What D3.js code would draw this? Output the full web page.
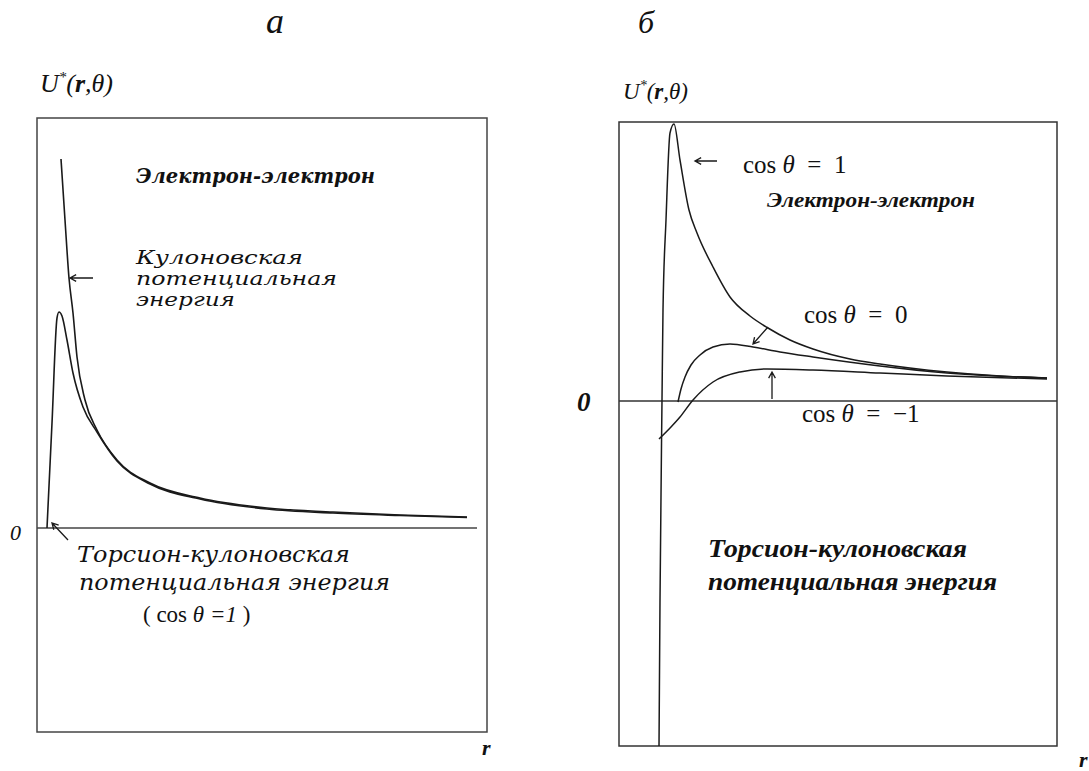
<!DOCTYPE html>
<html>
<head>
<meta charset="utf-8">
<script src="https://cdn.jsdelivr.net/npm/d3@7"></script>
<style>
  body { margin: 0; background: #fff; }
  svg { display: block; }
  text { white-space: pre; fill: #111; }
</style>
</head>
<body>
<svg id="chart" width="1089" height="771"></svg>
<script>
// panel a: r and U values (arbitrary units)
const coulombR = [0.24, 0.28, 0.32, 0.36, 0.40, 0.48, 0.60, 0.80, 1.13, 1.63, 2.30, 2.96, 3.63, 4.30]
const coulombU = [3.69, 3.08, 2.50, 2.15, 1.71, 1.28, 0.98, 0.68, 0.45, 0.30, 0.20, 0.16, 0.13, 0.11]
const torsionR = [0.10, 0.15, 0.20, 0.22, 0.25, 0.30, 0.36, 0.46, 0.60, 0.80, 1.13, 1.63, 2.30, 2.96, 3.63, 4.30]
const torsionU = [0.00, 1.05, 2.10, 2.16, 2.12, 1.88, 1.55, 1.21, 0.96, 0.67, 0.44, 0.29, 0.19, 0.15, 0.125, 0.105]

// panel б: three curves for cos θ = 1, 0, -1
const cos1R = [0.40, 0.41, 0.43, 0.44, 0.47, 0.51, 0.55, 0.61, 0.70, 0.78, 0.94, 1.11, 1.31, 1.49, 1.71, 1.94, 2.31, 2.61, 3.28, 3.81, 4.28]
const cos1U = [-3.45, -1.99, 0.01, 0.91, 1.81, 2.68, 2.77, 2.41, 1.91, 1.68, 1.34, 1.04, 0.85, 0.73, 0.61, 0.52, 0.42, 0.37, 0.29, 0.25, 0.23]
const cos0R = [0.59, 0.62, 0.66, 0.72, 0.81, 0.94, 1.11, 1.34, 1.61, 1.94, 2.61, 3.28, 4.28]
const cos0U = [-0.01, 0.12, 0.24, 0.36, 0.46, 0.54, 0.57, 0.54, 0.49, 0.44, 0.35, 0.28, 0.23]
const cosM1R = [0.40, 0.52, 0.61, 0.74, 0.94, 1.21, 1.48, 1.94, 2.61, 3.28, 4.28]
const cosM1U = [-0.38, -0.26, -0.16, 0.01, 0.19, 0.29, 0.32, 0.31, 0.28, 0.25, 0.22]

// axis extents of each panel
const domainA = { r: [0, 4.5], u: [-2.04, 4.1] }
const domainB = { r: [0, 4.38], u: [-3.45, 2.79] }

function makeChart() {
  const svg = d3.select('#chart')
  const ink = '#1a1a1a'
  const times = '"Liberation Serif", serif'
  const century = '"DejaVu Serif", serif'

  const zip = (xs, ys) => xs.map((r, i) => ({ r, u: ys[i] }))

  // small helper for a text label
  function label(x, y, size, t, opts = {}) {
    const el = svg.append('text').attr('x', x).attr('y', y)
      .attr('font-family', opts.family || times).attr('font-size', size)
    if (opts.italic) el.attr('font-style', 'italic')
    if (opts.bold) el.attr('font-weight', 'bold')
    if (opts.width) el.attr('textLength', opts.width).attr('lengthAdjust', 'spacingAndGlyphs')
    if (opts.html) el.html(t)
    else el.text(t)
    return el
  }

  // arrow with open head, from (r1,u1) to (r2,u2)
  function arrow(g, x, y, r1, u1, r2, u2) {
    const x1 = x(r1), y1 = y(u1), x2 = x(r2), y2 = y(u2)
    const a = Math.atan2(y2 - y1, x2 - x1)
    const h = 7
    g.append('path')
      .attr('d', `M${x1},${y1}L${x2},${y2}` +
        `M${x2 - h * Math.cos(a - 0.5)},${y2 - h * Math.sin(a - 0.5)}L${x2},${y2}` +
        `L${x2 - h * Math.cos(a + 0.5)},${y2 - h * Math.sin(a + 0.5)}`)
      .attr('fill', 'none')
      .attr('stroke', ink)
      .attr('stroke-width', 1.3)
  }

  // ---------- panel a ----------
  const xa = d3.scaleLinear().domain(domainA.r).range([37, 487])
  const ya = d3.scaleLinear().domain(domainA.u).range([732, 118])
  const ga = svg.append('g')

  ga.append('rect')
    .attr('x', xa(domainA.r[0])).attr('y', ya(domainA.u[1]))
    .attr('width', xa(domainA.r[1]) - xa(domainA.r[0]))
    .attr('height', ya(domainA.u[0]) - ya(domainA.u[1]))
    .attr('fill', 'none').attr('stroke', '#444').attr('stroke-width', 1.5)
  ga.append('line')
    .attr('x1', xa(0)).attr('x2', xa(4.4))
    .attr('y1', ya(0)).attr('y2', ya(0))
    .attr('stroke', '#444').attr('stroke-width', 1.5)

  const lineA = d3.line().x(d => xa(d.r)).y(d => ya(d.u)).curve(d3.curveMonotoneX)
  ga.selectAll('path.curve')
    .data([zip(coulombR, coulombU), zip(torsionR, torsionU)])
    .enter().append('path')
    .attr('class', 'curve')
    .attr('d', lineA)
    .attr('fill', 'none').attr('stroke', ink).attr('stroke-width', 1.6)

  arrow(ga, xa, ya, 0.56, 2.5, 0.33, 2.5)
  arrow(ga, xa, ya, 0.31, -0.12, 0.15, 0.05)

  label(266, 33, 36, 'a', { italic: true })
  label(40, 92, 26,
    'U<tspan dy="-10" font-size="15">*</tspan><tspan dy="10">(</tspan><tspan font-weight="bold">r</tspan>,θ)',
    { italic: true, html: true })
  label(136, 183, 20, 'Электрон-электрон', { italic: true, bold: true, width: 239, family: century })
  const coul = [['Кулоновская', 167], ['потенциальная', 201], ['энергия', 99]]
  coul.forEach(([t, w], i) =>
    label(136, 264 + i * 21, 19, t, { italic: true, width: w, family: century }))
  const tors = [['Торсион-кулоновская', 77, 562, 273], ['потенциальная энергия', 79, 590, 311]]
  tors.forEach(([t, x, y, w]) =>
    label(x, y, 22, t, { italic: true, width: w, family: century }))
  label(143, 622, 23, '( cos <tspan font-style="italic">θ =1</tspan> )', { html: true })
  label(10, 540, 22, '0', { italic: true })
  label(482, 755, 22, 'r', { italic: true, bold: true })

  // ---------- panel б ----------
  const xb = d3.scaleLinear().domain(domainB.r).range([619, 1057])
  const yb = d3.scaleLinear().domain(domainB.u).range([746, 122])
  const gb = svg.append('g')

  gb.append('rect')
    .attr('x', xb(domainB.r[0])).attr('y', yb(domainB.u[1]))
    .attr('width', xb(domainB.r[1]) - xb(domainB.r[0]))
    .attr('height', yb(domainB.u[0]) - yb(domainB.u[1]))
    .attr('fill', 'none').attr('stroke', '#333').attr('stroke-width', 1.5)
  gb.append('line')
    .attr('x1', xb(0)).attr('x2', xb(domainB.r[1]))
    .attr('y1', yb(0)).attr('y2', yb(0))
    .attr('stroke', '#333').attr('stroke-width', 1.5)

  const lineB = d3.line().x(d => xb(d.r)).y(d => yb(d.u)).curve(d3.curveMonotoneX)
  gb.selectAll('path.curve')
    .data([zip(cos1R, cos1U), zip(cos0R, cos0U), zip(cosM1R, cosM1U)])
    .enter().append('path')
    .attr('class', 'curve')
    .attr('d', lineB)
    .attr('fill', 'none').attr('stroke', ink).attr('stroke-width', 1.5)

  arrow(gb, xb, yb, 0.98, 2.40, 0.76, 2.40)
  arrow(gb, xb, yb, 1.49, 0.74, 1.34, 0.57)
  arrow(gb, xb, yb, 1.53, 0.02, 1.53, 0.29)

  label(638, 33, 32, 'б', { italic: true })
  label(623, 99, 23,
    'U<tspan dy="-9" font-size="14">*</tspan><tspan dy="9">(</tspan><tspan font-weight="bold">r</tspan>,θ)',
    { italic: true, html: true })
  const cosLabels = [['1', 743, 173], ['0', 804, 323], ['−1', 802, 422]]
  cosLabels.forEach(([v, x, y]) =>
    label(x, y, 25, `cos <tspan font-style="italic">θ</tspan>  =  ${v}`, { html: true }))
  label(767, 207, 21, 'Электрон-электрон', { italic: true, bold: true, width: 208 })
  const torsB = [['Торсион-кулоновская', 557, 259], ['потенциальная энергия', 590, 289]]
  torsB.forEach(([t, y, w]) => label(708, y, 26, t, { italic: true, bold: true, width: w }))
  label(577, 411, 27, '0', { italic: true, bold: true })
  label(1079, 767, 22, 'r', { italic: true, bold: true })
}

window.onload = makeChart
</script>
</body>
</html>
